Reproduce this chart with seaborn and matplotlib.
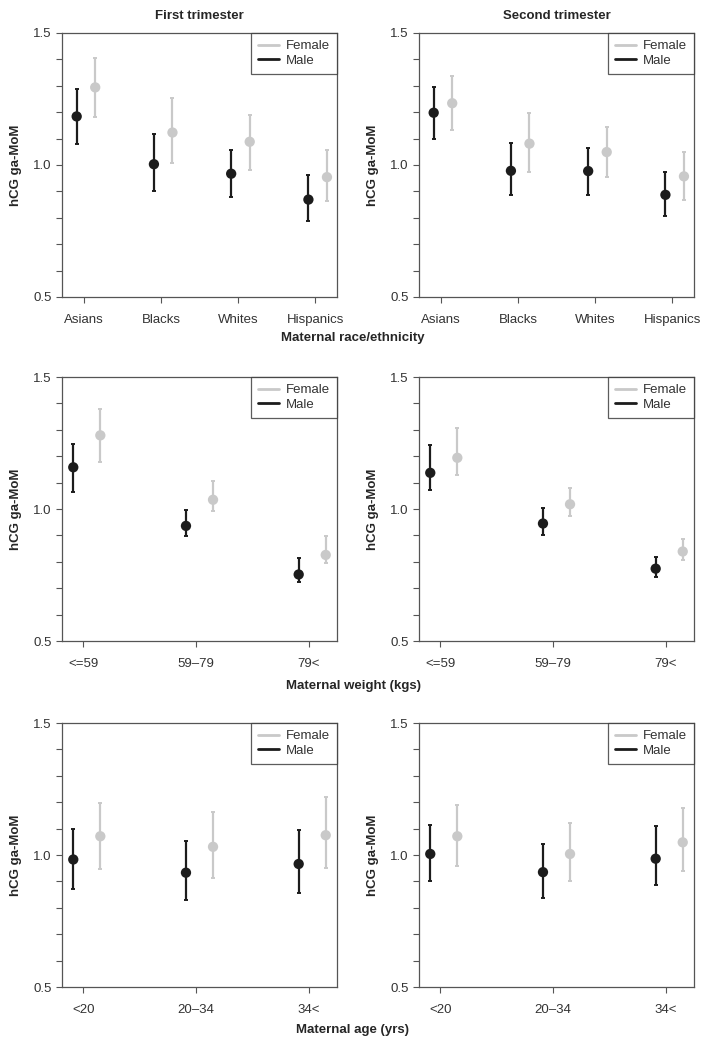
import numpy as np
import matplotlib
matplotlib.use("Agg")
import matplotlib.pyplot as plt
from matplotlib.lines import Line2D
from matplotlib.ticker import MultipleLocator
import seaborn as sns

sns.set_theme(style="ticks")
plt.rcParams['font.family'] = ['Liberation Sans', 'DejaVu Sans']

# ---- data (hCG ga-MoM: mean, lower, upper) ----
race_cats = ["Asians", "Blacks", "Whites", "Hispanics"]
weight_cats = ["<=59", "59\u201379", "79<"]
age_cats = ["<20", "20\u201334", "34<"]

# first trimester, race
r1_male = [1.184, 1.003, 0.967, 0.869]
r1_male_lo = [1.081, 0.900, 0.878, 0.788]
r1_male_hi = [1.288, 1.117, 1.056, 0.963]
r1_fem = [1.294, 1.123, 1.088, 0.954]
r1_fem_lo = [1.183, 1.006, 0.982, 0.864]
r1_fem_hi = [1.407, 1.255, 1.188, 1.057]

# second trimester, race
r2_male = [1.198, 0.978, 0.977, 0.887]
r2_male_lo = [1.099, 0.885, 0.888, 0.807]
r2_male_hi = [1.297, 1.084, 1.063, 0.973]
r2_fem = [1.234, 1.081, 1.049, 0.957]
r2_fem_lo = [1.132, 0.973, 0.954, 0.868]
r2_fem_hi = [1.338, 1.198, 1.145, 1.049]

# first trimester, weight
w1_male = [1.158, 0.936, 0.752]
w1_male_lo = [1.064, 0.897, 0.723]
w1_male_hi = [1.247, 0.998, 0.814]
w1_fem = [1.279, 1.035, 0.826]
w1_fem_lo = [1.177, 0.992, 0.794]
w1_fem_hi = [1.377, 1.106, 0.896]

# second trimester, weight
w2_male = [1.137, 0.945, 0.774]
w2_male_lo = [1.071, 0.902, 0.744]
w2_male_hi = [1.243, 1.003, 0.818]
w2_fem = [1.194, 1.018, 0.839]
w2_fem_lo = [1.127, 0.972, 0.806]
w2_fem_hi = [1.306, 1.080, 0.887]

# first trimester, age
a1_male = [0.983, 0.933, 0.966]
a1_male_lo = [0.873, 0.829, 0.856]
a1_male_hi = [1.097, 1.052, 1.095]
a1_fem = [1.071, 1.031, 1.075]
a1_fem_lo = [0.948, 0.913, 0.952]
a1_fem_hi = [1.196, 1.164, 1.218]

# second trimester, age
a2_male = [1.004, 0.935, 0.986]
a2_male_lo = [0.902, 0.839, 0.885]
a2_male_hi = [1.112, 1.043, 1.108]
a2_fem = [1.071, 1.004, 1.048]
a2_fem_lo = [0.958, 0.900, 0.939]
a2_fem_hi = [1.189, 1.122, 1.179]

male_color = "#1c1c1c"
fem_color = "#c9c9c9"
spine_color = "#555555"


def panel(ax, cats, male, mlo, mhi, fem, flo, fhi, xpad):
    x = np.arange(len(cats))
    for vals, lo, hi, col, off in [(fem, flo, fhi, fem_color, 0.15),
                                   (male, mlo, mhi, male_color, -0.09)]:
        vals = np.array(vals)
        err = [vals - np.array(lo), np.array(hi) - vals]
        ax.errorbar(x + off, vals, yerr=err, fmt="none", ecolor=col,
                    elinewidth=1.6, capsize=1.6, capthick=1.4, zorder=2)
        sns.scatterplot(x=x + off, y=vals, color=col, s=55, ax=ax,
                        edgecolor="none", zorder=3, legend=False)
    ax.set_xticks(x)
    ax.set_xticklabels(cats)
    ax.set_xlim(xpad[0], len(cats) - 1 + xpad[1])
    ax.set_ylim(0.5, 1.5)
    ax.set_yticks([0.5, 1.0, 1.5])
    ax.set_yticklabels(["0.5", "1.0", "1.5"])
    ax.yaxis.set_minor_locator(MultipleLocator(0.1))
    ax.tick_params(which="both", direction="out", length=4, width=0.8,
                   color=spine_color, labelsize=9.5, labelcolor="#333333")
    ax.tick_params(axis="x", pad=8)
    ax.set_xlabel("")
    ax.set_ylabel("hCG ga-MoM", fontsize=9.5, fontweight="bold", labelpad=8)
    for s in ax.spines.values():
        s.set_color(spine_color)
        s.set_linewidth(0.9)
    handles = [Line2D([], [], color=fem_color, lw=2),
               Line2D([], [], color=male_color, lw=2)]
    leg = ax.legend(handles, ["Female", "Male"], loc="upper right",
                    borderaxespad=0, fontsize=9.5, frameon=True,
                    fancybox=False, handlelength=1.6, handletextpad=0.5,
                    labelspacing=0.15, borderpad=0.55)
    leg.get_frame().set_edgecolor("#333333")
    leg.get_frame().set_linewidth(0.9)
    for t in leg.get_texts():
        t.set_color("#333333")


fig = plt.figure(figsize=(7.06, 10.46), dpi=100)
W, H = 706, 1046
lefts = [62, 419]
tops = [33, 377, 723]
pw, ph = 275, 264

rows = [
    (race_cats, (r1_male, r1_male_lo, r1_male_hi, r1_fem, r1_fem_lo, r1_fem_hi),
     (r2_male, r2_male_lo, r2_male_hi, r2_fem, r2_fem_lo, r2_fem_hi), (-0.28, 0.28)),
    (weight_cats, (w1_male, w1_male_lo, w1_male_hi, w1_fem, w1_fem_lo, w1_fem_hi),
     (w2_male, w2_male_lo, w2_male_hi, w2_fem, w2_fem_lo, w2_fem_hi), (-0.19, 0.25)),
    (age_cats, (a1_male, a1_male_lo, a1_male_hi, a1_fem, a1_fem_lo, a1_fem_hi),
     (a2_male, a2_male_lo, a2_male_hi, a2_fem, a2_fem_lo, a2_fem_hi), (-0.19, 0.25)),
]

axes = []
for r, (cats, d1, d2, xpad) in enumerate(rows):
    for c, d in enumerate([d1, d2]):
        ax = fig.add_axes([lefts[c] / W, 1 - (tops[r] + ph) / H, pw / W, ph / H])
        panel(ax, cats, *d, xpad)
        axes.append(ax)

axes[0].set_title("First trimester", fontsize=9.5, fontweight="bold", pad=10)
axes[1].set_title("Second trimester", fontsize=9.5, fontweight="bold", pad=10)

xlabels = [("Maternal race/ethnicity", 338),
           ("Maternal weight (kgs)", 686),
           ("Maternal age (yrs)", 1030)]
for txt, y in xlabels:
    fig.text(0.5, 1 - y / H, txt, ha="center", va="center",
             fontsize=9.5, fontweight="bold")

fig.savefig("out.png", dpi=100)
